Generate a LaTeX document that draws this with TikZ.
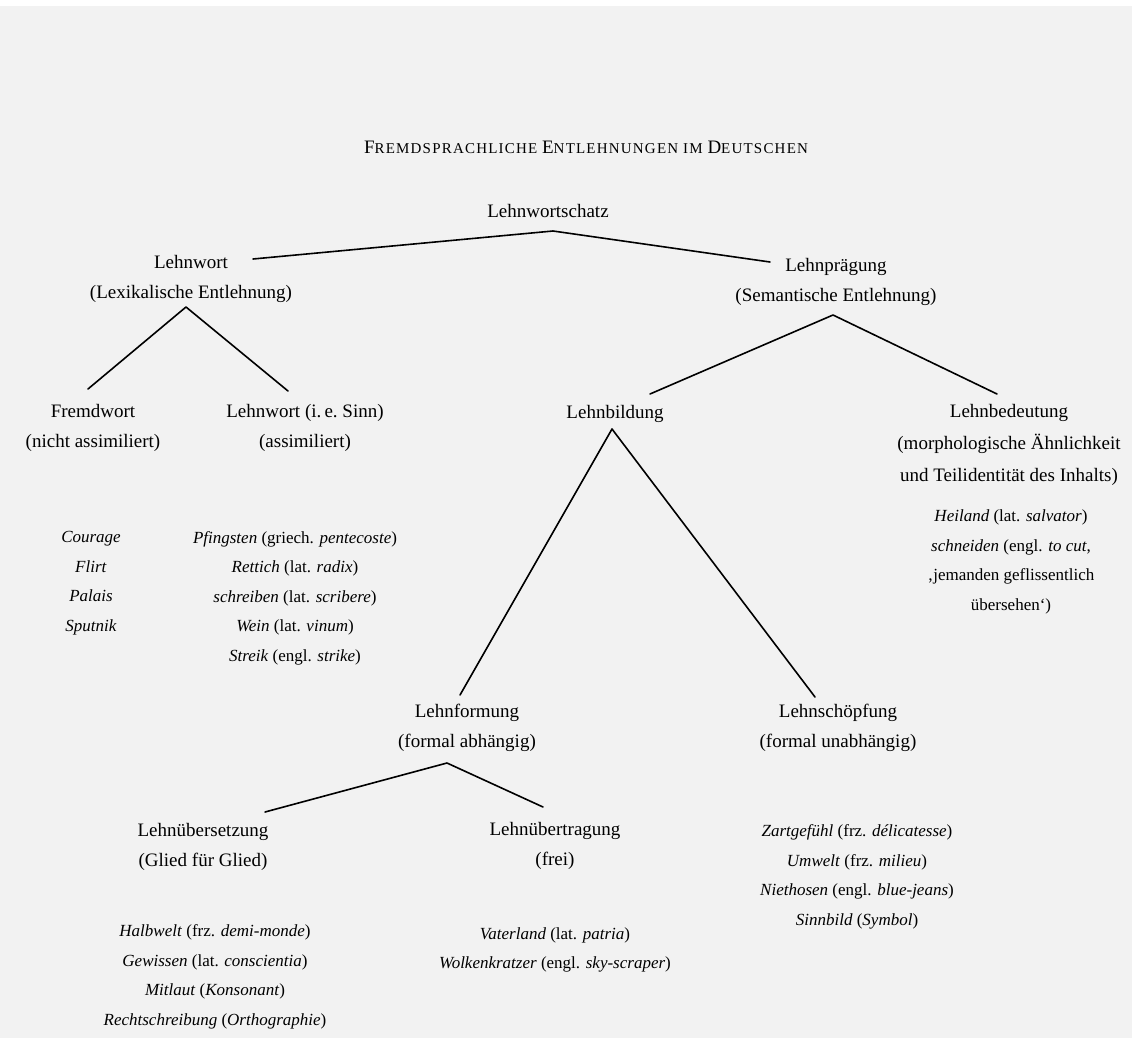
\documentclass[tikz,border=0pt]{standalone}
\usepackage{fontspec}
\setmainfont{Liberation Serif}
\definecolor{paper}{RGB}{242,242,242}

% caps for the initial, smaller tracked caps for the rest
\newcommand{\initcap}[2]{{\fontsize{19}{19}\selectfont #1}{\fontsize{15}{19}\selectfont\addfontfeature{LetterSpace=8}#2}}

\tikzset{
  headline/.style={font=\fontsize{19.5}{23}\selectfont, inner sep=0pt},
  head/.style={align=center, font=\fontsize{19}{30}\selectfont, inner sep=0pt},
  examples/.style={align=center, font=\fontsize{17}{29.5}\selectfont, inner sep=0pt},
  branch/.style={line width=1.6pt, line cap=round, line join=round},
}

\begin{document}
\begin{tikzpicture}[x=1pt,y=-1pt]
  \useasboundingbox (0,0) rectangle (1132,1038);
  \fill[white] (-4,-4) rectangle (1140,1046);
  \fill[paper] (-4,6) rectangle (1140,1046);

  % title
  \node[headline] (title) at (586,147)
    {\initcap{F}{REMDSPRACHLICHE} \initcap{E}{NTLEHNUNGEN} {\fontsize{15}{19}\selectfont\addfontfeature{LetterSpace=8}IM} \initcap{D}{EUTSCHEN}};

  % categories
  \node[head] (lws) at (548,211) {Lehnwortschatz};
  \node[head] (lw)  at (191,279) {Lehnwort\\(Lexikalische Entlehnung)};
  \node[head] (lp)  at (836,282) {Lehnprägung\\(Semantische Entlehnung)};
  \node[head] (fw)  at (93,428)  {Fremdwort\\(nicht assimiliert)};
  \node[head] (lwi) at (305,428) {Lehnwort (i.\,e.\ Sinn)\\(assimiliert)};
  \node[head] (lb)  at (615,414) {Lehnbildung};
  \node[head, font=\fontsize{19}{32}\selectfont] (lbd) at (1009,445)
    {Lehnbedeutung\\(morphologische Ähnlichkeit\\und Teilidentität des Inhalts)};
  \node[head] (lf)  at (467,728) {Lehnformung\\(formal abhängig)};
  \node[head] (ls)  at (838,728) {Lehnschöpfung\\(formal unabhängig)};
  \node[head] (lue) at (203,847) {Lehnübersetzung\\(Glied für Glied)};
  \node[head] (lut) at (555,846) {Lehnübertragung\\(frei)};

  % examples
  \node[examples] (ex-fw) at (91,583)
    {\textit{Courage}\\\textit{Flirt}\\\textit{Palais}\\\textit{Sputnik}};
  \node[examples] (ex-lwi) at (295,598)
    {\textit{Pfingsten} (griech. \textit{pentecoste})\\
     \textit{Rettich} (lat. \textit{radix})\\
     \textit{schreiben} (lat. \textit{scribere})\\
     \textit{Wein} (lat. \textit{vinum})\\
     \textit{Streik} (engl. \textit{strike})};
  \node[examples] (ex-lbd) at (1011,562)
    {\textit{Heiland} (lat. \textit{salvator})\\
     \textit{schneiden} (engl. \textit{to cut},\\
     ‚jemanden geflissentlich\\
     übersehen‘)};
  \node[examples] (ex-ls) at (857,877)
    {\textit{Zartgefühl} (frz. \textit{délicatesse})\\
     \textit{Umwelt} (frz. \textit{milieu})\\
     \textit{Niethosen} (engl. \textit{blue-jeans})\\
     \textit{Sinnbild} (\textit{Symbol})};
  \node[examples] (ex-lue) at (215,977)
    {\textit{Halbwelt} (frz. \textit{demi-monde})\\
     \textit{Gewissen} (lat. \textit{conscientia})\\
     \textit{Mitlaut} (\textit{Konsonant})\\
     \textit{Rechtschreibung} (\textit{Orthographie})};
  \node[examples] (ex-lut) at (555,950)
    {\textit{Vaterland} (lat. \textit{patria})\\
     \textit{Wolkenkratzer} (engl. \textit{sky-scraper})};

  % branch points
  \coordinate (lws-foot) at (553,231);
  \coordinate (lw-top)   at (253,259);
  \coordinate (lp-top)   at (770,262);
  \coordinate (lw-foot)  at (186,307);
  \coordinate (fw-top)   at (88,389);
  \coordinate (lwi-top)  at (288,391);
  \coordinate (lp-foot)  at (833,315);
  \coordinate (lb-top)   at (650,394);
  \coordinate (lbd-top)  at (997,394);
  \coordinate (lb-foot)  at (612,429);
  \coordinate (lf-top)   at (460,695);
  \coordinate (ls-top)   at (815,697);
  \coordinate (lf-foot)  at (447,763);
  \coordinate (lue-top)  at (265,812);
  \coordinate (lut-top)  at (543,807);

  % tree branches
  \draw[branch] (lw-top) -- (lws-foot) -- (lp-top);
  \draw[branch] (fw-top) -- (lw-foot) -- (lwi-top);
  \draw[branch] (lb-top) -- (lp-foot) -- (lbd-top);
  \draw[branch] (lf-top) -- (lb-foot) -- (ls-top);
  \draw[branch] (lue-top) -- (lf-foot) -- (lut-top);
\end{tikzpicture}
\end{document}
